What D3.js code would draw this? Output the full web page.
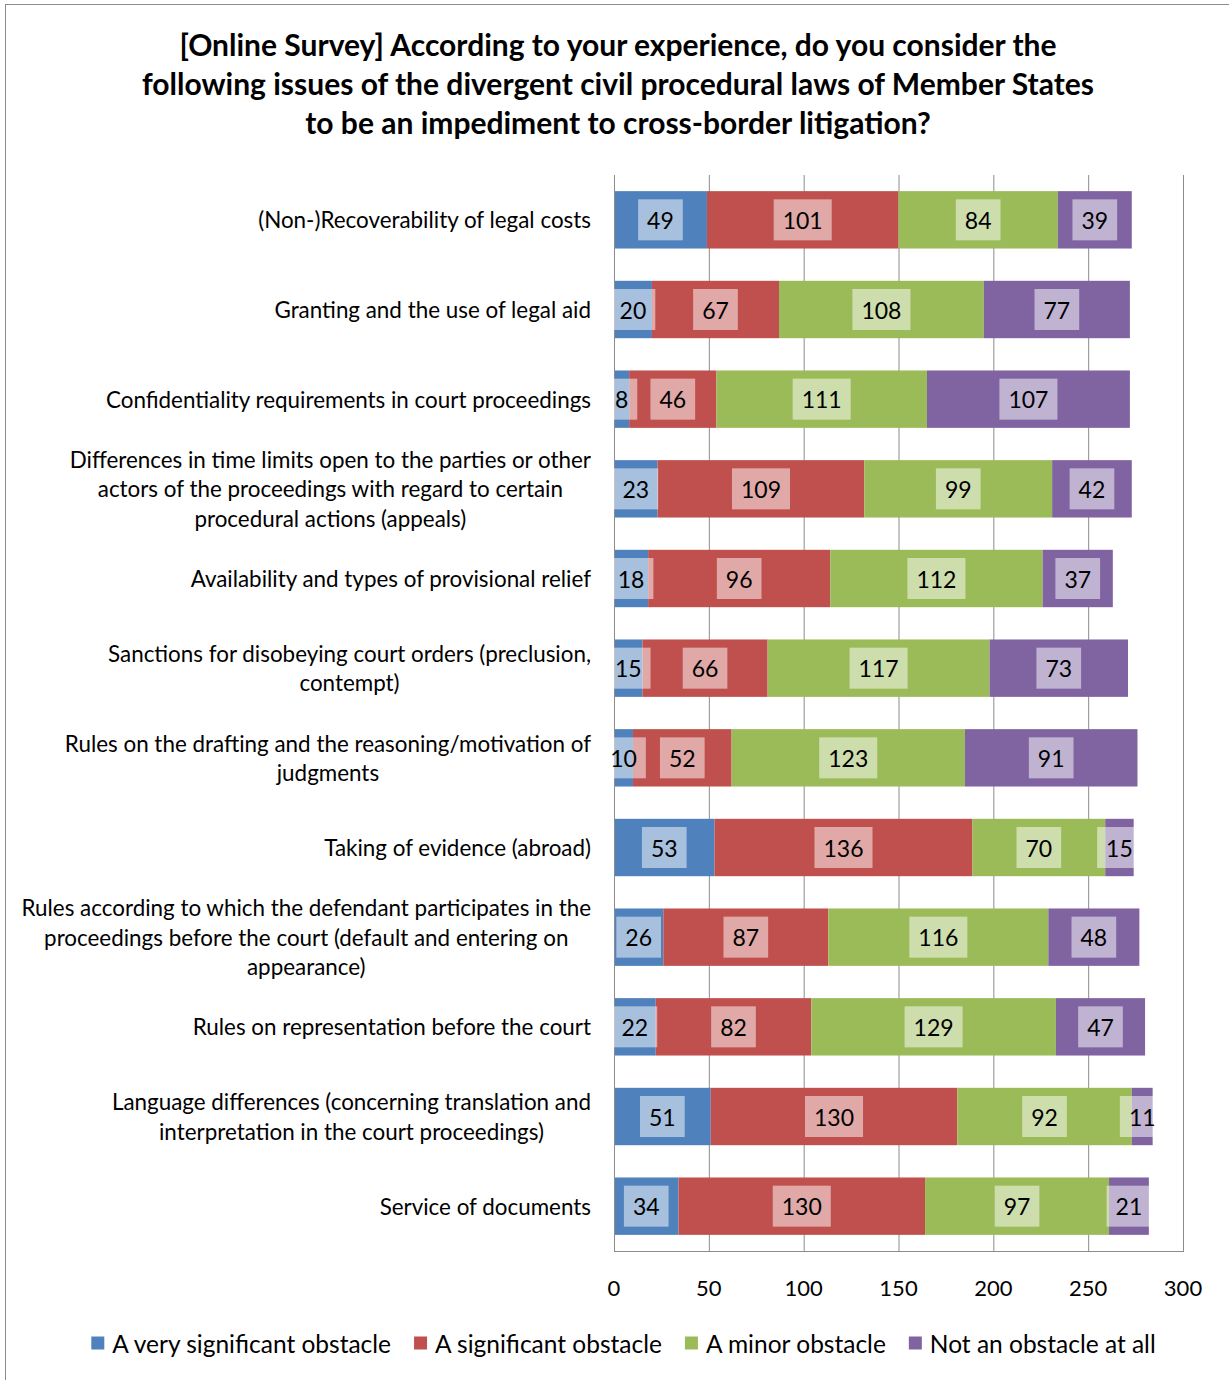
<!DOCTYPE html>
<html>
<head>
<meta charset="utf-8">
<script src="https://cdn.jsdelivr.net/npm/d3@7"></script>
<style>
  html, body { margin: 0; padding: 0; background: #fff; }
  svg { display: block; }
  text { font-family: Lato, "Open Sans", sans-serif; fill: #000; }
</style>
</head>
<body>
<svg id="chart" width="1229" height="1380"></svg>
<script>
// Survey issues (line breaks mark the wrapped label lines)
const categories = [
  "(Non-)Recoverability of legal costs",
  "Granting and the use of legal aid",
  "Confidentiality requirements in court proceedings",
  "Differences in time limits open to the parties or other\nactors of the proceedings with regard to certain\nprocedural actions (appeals)",
  "Availability and types of provisional relief",
  "Sanctions for disobeying court orders (preclusion,\ncontempt)",
  "Rules on the drafting and the reasoning/motivation of\njudgments",
  "Taking of evidence (abroad)",
  "Rules according to which the defendant participates in the\nproceedings before the court (default and entering on\nappearance)",
  "Rules on representation before the court",
  "Language differences (concerning translation and\ninterpretation in the court proceedings)",
  "Service of documents"
];

const seriesNames = [
  "A very significant obstacle",
  "A significant obstacle",
  "A minor obstacle",
  "Not an obstacle at all"
];

const verySignificant = [49, 20, 8, 23, 18, 15, 10, 53, 26, 22, 51, 34];
const significant     = [101, 67, 46, 109, 96, 66, 52, 136, 87, 82, 130, 130];
const minor           = [84, 108, 111, 99, 112, 117, 123, 70, 116, 129, 92, 97];
const notAtAll        = [39, 77, 107, 42, 37, 73, 91, 15, 48, 47, 11, 21];

const xTicks = [0, 50, 100, 150, 200, 250, 300];

const titleLines = [
  "[Online Survey] According to your experience, do you consider the",
  "following issues of the divergent civil procedural laws of Member States",
  "to be an impediment to cross-border litigation?"
];

const colors = ["#4f81bd", "#c0504d", "#9bbb59", "#8064a2"];

// Build rows for the stack layout
const keys = ["s0", "s1", "s2", "s3"];
const rows = categories.map((c, i) => ({
  cat: c,
  s0: verySignificant[i], s1: significant[i], s2: minor[i], s3: notAtAll[i]
}));
const stacked = d3.stack().keys(keys)(rows);

const svg = d3.select("#chart");

// Outer chart frame
svg.append("rect")
  .attr("x", 5.5).attr("y", 4.5)
  .attr("width", 1240).attr("height", 1400)
  .attr("fill", "none").attr("stroke", "#8c8c8c").attr("stroke-width", 1);

// Title
const title = svg.append("text")
  .attr("text-anchor", "middle")
  .style("font-weight", "bold")
  .style("font-size", "30px");
titleLines.forEach((t, i) => {
  title.append("tspan").attr("x", 618).attr("y", 56 + i * 39).text(t);
});

const plot = { left: 614, right: 1183, top: 175, bottom: 1251 };

const x = d3.scaleLinear().domain([0, 300]).range([plot.left, plot.right]);
const y = d3.scaleBand().domain(categories)
  .range([plot.top, plot.bottom]).paddingInner(0.36).paddingOuter(0.18);

// Vertical gridlines
const grid = svg.append("g");
grid.selectAll("line").data(xTicks.filter(t => t > 0)).join("line")
  .attr("x1", d => x(d) + 0.5).attr("x2", d => x(d) + 0.5)
  .attr("y1", plot.top).attr("y2", plot.bottom)
  .attr("stroke", "#8c8c8c").attr("stroke-width", 1);

// Bars
const layers = svg.append("g").selectAll("g").data(stacked).join("g")
  .attr("fill", (d, i) => colors[i]);
layers.selectAll("rect").data(d => d).join("rect")
  .attr("x", d => x(d[0]))
  .attr("y", d => y(d.data.cat))
  .attr("width", d => x(d[1]) - x(d[0]))
  .attr("height", y.bandwidth());

// Axes lines
svg.append("line")
  .attr("x1", plot.left + 0.5).attr("x2", plot.left + 0.5)
  .attr("y1", plot.top).attr("y2", plot.bottom)
  .attr("stroke", "#8c8c8c");
svg.append("line")
  .attr("x1", plot.left).attr("x2", plot.right + 1)
  .attr("y1", plot.bottom + 0.5).attr("y2", plot.bottom + 0.5)
  .attr("stroke", "#8c8c8c");

// Data labels with translucent boxes
const labelG = svg.append("g");
stacked.forEach((layer) => {
  layer.forEach(d => {
    const v = d[1] - d[0];
    const cx = (x(d[0]) + x(d[1])) / 2;
    const cy = y(d.data.cat) + y.bandwidth() / 2;
    const g = labelG.append("g");
    const box = g.append("rect");
    const t = g.append("text")
      .attr("x", cx).attr("y", cy)
      .attr("text-anchor", "middle")
      .attr("dominant-baseline", "central")
      .style("font-size", "23px")
      .text(v);
    const w = t.node().getComputedTextLength() + 18;
    box.attr("x", cx - w / 2).attr("y", cy - 20.5)
      .attr("width", w).attr("height", 41)
      .attr("fill", "#fff").attr("fill-opacity", 0.5);
  });
});

// Category labels: each block right-aligned, lines centred within it
const catG = svg.append("g");
categories.forEach(c => {
  const lines = c.split("\n");
  const cy = y(c) + y.bandwidth() / 2;
  const lh = 29.5;
  const tmp = lines.map(l => catG.append("text").style("font-size", "22.4px").text(l));
  const maxW = d3.max(tmp, n => n.node().getComputedTextLength());
  const center = 591 - maxW / 2;
  tmp.forEach((n, i) => {
    n.attr("x", center).attr("text-anchor", "middle")
      .attr("y", cy + (i - (lines.length - 1) / 2) * lh)
      .attr("dominant-baseline", "central");
  });
});

// X tick labels
svg.append("g").selectAll("text").data(xTicks).join("text")
  .attr("x", d => x(d)).attr("y", 1287)
  .attr("text-anchor", "middle").attr("dominant-baseline", "central")
  .style("font-size", "22px")
  .text(d => d);

// Legend
const legend = svg.append("g");
const items = seriesNames.map((n, i) => {
  const g = legend.append("g");
  g.append("rect").attr("width", 13).attr("height", 13)
    .attr("y", 1343 - 6.5).attr("fill", colors[i]);
  const t = g.append("text").attr("x", 21).attr("y", 1343)
    .attr("dominant-baseline", "central").style("font-size", "24.5px").text(n);
  return { g, w: 21 + t.node().getComputedTextLength() };
});
const gap = 23;
const total = d3.sum(items, d => d.w) + gap * (items.length - 1);
let lx = 623.5 - total / 2;
items.forEach(it => {
  it.g.attr("transform", `translate(${lx},0)`);
  lx += it.w + gap;
});
</script>
</body>
</html>
